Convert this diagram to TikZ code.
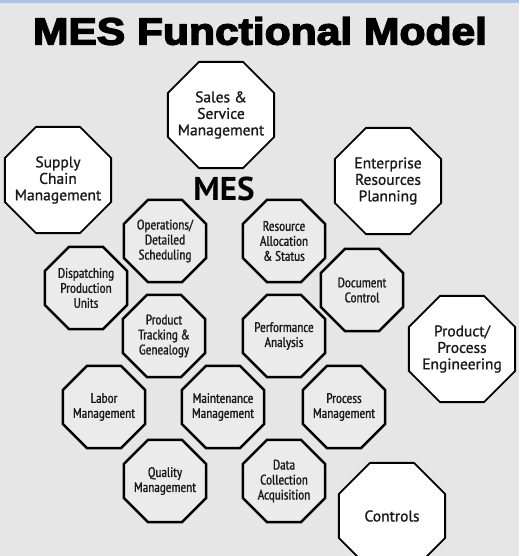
\documentclass[tikz,border=0pt]{standalone}
\usepackage{fontspec}
\setmainfont{PT Sans}
\newfontfamily\titlefont{Liberation Sans Bold}[FakeBold=3.5]
\newfontfamily\outerfont{PT Sans}[FakeBold=1.1]
\newfontfamily\innerfont{PT Sans Narrow}[FakeBold=1.2]
\usetikzlibrary{shapes.geometric}
\definecolor{bg}{HTML}{E6E6E6}
\definecolor{innerfill}{HTML}{EBEBEB}
\definecolor{topband}{HTML}{AFC3E0}
\definecolor{ink}{HTML}{1A1A1A}
\tikzset{
  octo/.style={regular polygon, regular polygon sides=8, inner sep=0pt},
  outer/.style={octo, minimum size=115pt, draw=black, line width=1.8pt, fill=white,
    label={[align=center, text=ink, font=\outerfont\fontsize{15.5}{16.5}\selectfont]center:#1}},
  inner/.style={octo, minimum size=89pt, draw=black, line width=2.4pt, fill=innerfill,
    label={[align=center, text=ink, font=\innerfont\fontsize{13.8}{15}\selectfont]center:#1}},
}
\begin{document}
\begin{tikzpicture}[x=1pt,y=-1pt]
\useasboundingbox (0,0) rectangle (519,556);
\clip (0,0) rectangle (519,556);
\fill[bg] (0,0) rectangle (519,556);
\fill[topband] (0,0) rectangle (519,3);
\node[font=\titlefont\fontsize{38}{40}\selectfont, text=black] (title) at (260,31) {\scalebox{1.12}[1]{MES Functional Model}};
\node[font=\bfseries\fontsize{33}{35}\selectfont, text=black] (mes) at (224,189) {MES};
% outer
\node[outer={Sales \&\\Service\\Management}] (sales) at (221,115) {};
\node[outer={Supply\\Chain\\Management}] (supply) at (58,180) {};
\node[outer={Enterprise\\Resources\\Planning}] (erp) at (388,181) {};
\node[outer={Product/\\Process\\Engineering}] (ppe) at (462,349) {};
\node[outer={Controls}] (controls) at (392,516) {};
% inner
\node[inner={Operations/\\Detailed\\Scheduling}] (ops) at (165,241) {};
\node[inner={Resource\\Allocation\\\& Status}] (res) at (284,241) {};
\node[inner={Dispatching\\Production\\Units}] (disp) at (86,288) {};
\node[inner={Document\\Control}] (doc) at (362,290) {};
\node[inner={Product\\Tracking \&\\Genealogy}] (track) at (164,336) {};
\node[inner={Performance\\Analysis}] (perf) at (284,336) {};
\node[inner={Labor\\Management}] (labor) at (104,407) {};
\node[inner={Maintenance\\Management}] (maint) at (223,407) {};
\node[inner={Process\\Management}] (proc) at (344,407) {};
\node[inner={Quality\\Management}] (qual) at (165,481) {};
\node[inner={Data\\Collection\\Acquisition}] (data) at (284,481) {};
\end{tikzpicture}
\end{document}
